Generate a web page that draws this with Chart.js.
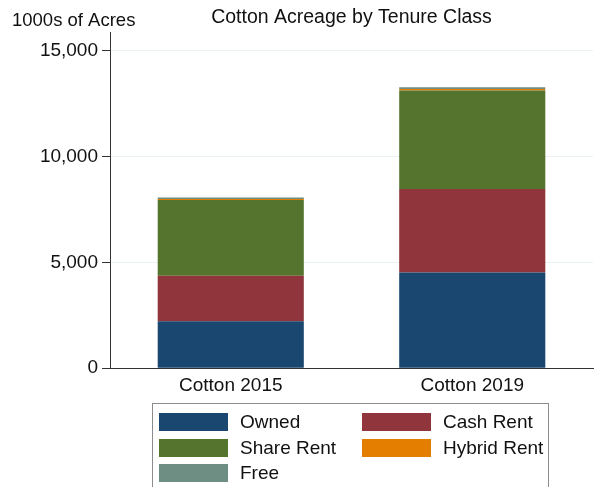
<!DOCTYPE html>
<html lang="en">
<head>
  <meta charset="UTF-8">
  <title>Cotton Acreage by Tenure Class</title>
  <script src="https://cdn.jsdelivr.net/npm/chart.js@4"></script>
  <style>
    body { margin: 0; background: #fff; font-family: "Liberation Sans", Arial, sans-serif; }
    #wrap { position: relative; width: 602px; height: 487px; overflow: hidden; }
    #legend {
      position: absolute; left: 152px; top: 403px; width: 397px; height: 120px;
      border: 1px solid #8c8c8c; box-sizing: border-box;
      display: grid; grid-template-columns: 203px 190px; grid-auto-rows: 25.7px;
      padding: 5px 0 0 6px; font-size: 19px; color: #111;
    }
    .item { display: flex; align-items: center; }
    .sw { width: 69px; height: 18px; margin-right: 12px; }
  </style>
</head>
<body>
  <div id="wrap">
    <canvas id="myChart" width="602" height="487"></canvas>
    <div id="legend"></div>
  </div>

  <script>
    const categories = ['Cotton 2015', 'Cotton 2019'];
    const owned      = [2220, 4520];
    const cashRent   = [2150, 3945];
    const shareRent  = [3575, 4655];
    const hybridRent = [45, 70];
    const free       = [70, 80];
    const yTicks     = [0, 5000, 10000, 15000];

    const series = [
      { label: 'Owned', data: owned, color: '#1a476f' },
      { label: 'Cash Rent', data: cashRent, color: '#90353b' },
      { label: 'Share Rent', data: shareRent, color: '#55752f' },
      { label: 'Hybrid Rent', data: hybridRent, color: '#e37e00' },
      { label: 'Free', data: free, color: '#6e8e84' }
    ];

    const FONT = '"Liberation Sans", Arial, sans-serif';

    // title and y-axis caption, placed like the original graph
    const textPlugin = {
      id: 'texts',
      afterDraw(chart) {
        const c = chart.ctx, a = chart.chartArea;
        c.save();
        c.fillStyle = '#111';
        c.textBaseline = 'middle';
        c.textAlign = 'center';
        c.font = '19.5px ' + FONT;
        c.fillText('Cotton Acreage by Tenure Class', (a.left + a.right) / 2, 18);
        c.textAlign = 'left';
        c.font = '18.5px ' + FONT;
        c.fillText('1000s of Acres', 12, 21);
        c.restore();
      }
    };

    const ctx = document.getElementById('myChart').getContext('2d');
    const myChart = new Chart(ctx, {
      type: 'bar',
      data: {
        labels: categories,
        datasets: series.map(s => ({
          label: s.label,
          data: s.data,
          backgroundColor: s.color,
          borderWidth: 0,
          categoryPercentage: 1,
          barPercentage: 0.605
        }))
      },
      options: {
        responsive: false,
        animation: false,
        layout: { padding: { top: 32, right: 9, bottom: 84, left: 0 } },
        plugins: { legend: { display: false }, title: { display: false }, tooltip: { enabled: false } },
        scales: {
          x: {
            stacked: true,
            grid: { display: false, drawTicks: false },
            border: { color: '#333', width: 1 },
            ticks: { color: '#111', padding: 6, font: { family: FONT, size: 19 } }
          },
          y: {
            stacked: true,
            min: 0,
            max: 15880,
            afterBuildTicks: scale => { scale.ticks = yTicks.map(v => ({ value: v })); },
            afterFit: scale => { scale.width = 110; },
            grid: { color: '#eaf2f3', tickColor: '#333', tickLength: 8, lineWidth: 1 },
            border: { color: '#333', width: 1 },
            ticks: {
              color: '#111', padding: 4,
              font: { family: FONT, size: 19 },
              callback: v => v.toLocaleString('en-US')
            }
          }
        }
      },
      plugins: [textPlugin]
    });

    const legend = document.getElementById('legend');
    series.forEach(s => {
      const el = document.createElement('div');
      el.className = 'item';
      el.innerHTML = '<span class="sw" style="background:' + s.color + '"></span><span>' + s.label + '</span>';
      legend.appendChild(el);
    });
  </script>
</body>
</html>
